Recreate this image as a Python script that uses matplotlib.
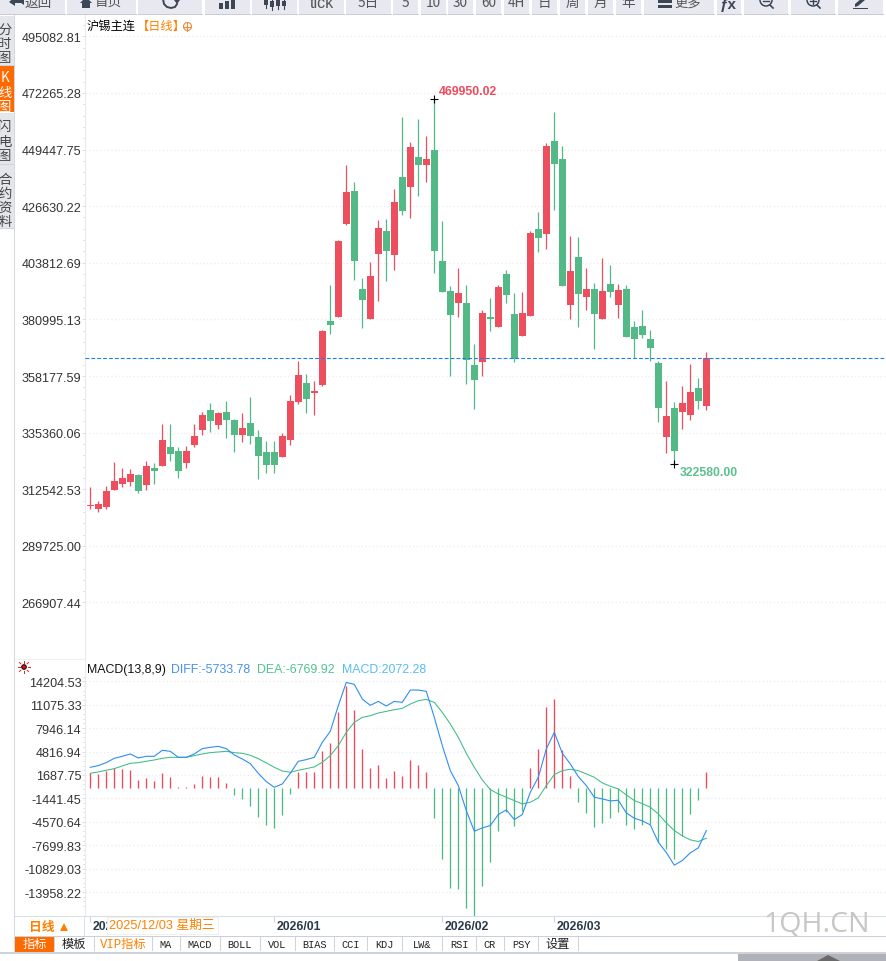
import matplotlib
matplotlib.use("Agg")
import matplotlib.pyplot as plt
from matplotlib.patches import Rectangle, Polygon, Circle
from matplotlib.transforms import ScaledTranslation

CJK = ["Noto Sans CJK SC", "DejaVu Sans"]
plt.rcParams["font.family"] = ["Liberation Sans", "DejaVu Sans"]

# 日线数据
highs = [313450, 307810, 313850, 323530, 321110, 320710, 318690, 323930, 323120, 338840,
         338840, 329570, 329970, 338840, 343680, 347300, 343680, 348110, 340860, 343270,
         349720, 336420, 331990, 331990, 335210, 350530, 364230, 358990, 356170, 376720,
         394860, 412990, 443220, 436370, 397680, 404130, 421050, 421460, 433550, 462560,
         452490, 461760, 454900, 469950, 420650, 394450, 401710, 394860, 371080, 384780,
         389620, 394860, 400900, 391630, 392040, 416620, 424280, 452080, 464580, 450870,
         414600, 414200, 401710, 395660, 405740, 402920, 395260, 394860, 380350, 384780,
         376720, 364230, 356170, 347710, 354150, 363020, 357380, 367860]
opens = [305790, 304590, 305390, 312240, 314660, 315470, 318290, 314260, 321110, 321910,
         329570, 327960, 323120, 330380, 336420, 344480, 338440, 343680, 340450, 334410,
         339240, 333600, 327560, 327560, 325540, 332390, 347710, 355360, 351330, 354560,
         380350, 381960, 419440, 432740, 393250, 381160, 407350, 416620, 406950, 438380,
         434350, 446440, 443220, 449260, 404530, 392440, 387600, 387600, 362620, 363830,
         381960, 377930, 399290, 383170, 374300, 382360, 417430, 415410, 452890, 445640,
         386800, 406140, 390020, 393250, 381160, 395260, 386800, 393250, 377930, 378330,
         373100, 363420, 333600, 345290, 343680, 342470, 353350, 346090]
closes = [306200, 306600, 311840, 315870, 317080, 318690, 311840, 321910, 319900, 332390,
          326750, 319900, 327960, 334000, 342470, 340050, 343270, 340450, 334410, 337230,
          334000, 325940, 322320, 322320, 334000, 348110, 358590, 348920, 352150, 376320,
          378740, 412590, 432340, 404530, 388810, 398480, 417830, 408560, 428310, 424680,
          450470, 443220, 445640, 408560, 392040, 382770, 391630, 364630, 356570, 383570,
          381160, 394050, 390830, 365040, 383570, 415810, 413800, 450870, 443620, 394450,
          400500, 391230, 393250, 383170, 392440, 392040, 392840, 373900, 373100, 374710,
          369470, 345290, 342060, 327960, 347300, 351740, 348110, 365320]
lows = [304590, 303380, 304590, 312240, 313450, 313850, 311030, 312240, 314660, 321910,
        323930, 317080, 321110, 329570, 334410, 335620, 336830, 333200, 327560, 331590,
        330780, 316680, 319090, 319090, 325540, 330380, 346900, 343270, 342470, 354150,
        375130, 381960, 419040, 396870, 377530, 381160, 388410, 396470, 400900, 423070,
        421860, 430720, 436370, 399690, 392040, 358180, 381960, 354960, 344890, 358180,
        376320, 377930, 387600, 363830, 374300, 382360, 408160, 409370, 425080, 394450,
        381160, 377930, 384780, 369070, 381160, 390020, 381560, 373900, 365440, 373500,
        364230, 339650, 327150, 322580, 336830, 340450, 344890, 344480]

diff = [2713, 2936, 3336, 3914, 4181, 4492, 3959, 4181, 4181, 4982,
        4848, 4048, 4048, 4492, 5204, 5382, 5516, 5204, 4359, 3825,
        3203, 1913, 801, 44, 489, 1913, 3514, 3736, 4048, 6049,
        7517, 10942, 14056, 13789, 11832, 10987, 11520, 10898, 11520, 11387,
        13033, 13033, 12855, 9385, 5604, 2268, 267, -3069, -5827, -5382,
        -5071, -3603, -2980, -4270, -3603, -623, 1379, 5160, 7384, 4581,
        3158, 1468, 267, -1290, -1512, -1779, -1690, -3380, -4092, -4448,
        -4982, -7295, -8674, -10364, -9741, -8718, -8051, -5733.78]
dea = [1913, 2091, 2313, 2535, 2891, 3247, 3336, 3514, 3692, 3914,
       4048, 4048, 4048, 4270, 4492, 4670, 4759, 4848, 4670, 4581,
       4315, 3870, 3292, 2713, 2224, 2046, 2313, 2535, 2758, 3380,
       4270, 5604, 7384, 8718, 9385, 9608, 9964, 10186, 10408, 10586,
       11164, 11609, 11787, 11387, 10052, 8496, 6716, 4581, 2713, 1023,
       -267, -845, -1290, -1735, -2180, -1957, -1379, 267, 1735, 2268,
       2446, 2268, 1824, 1379, 623, 178, -178, -979, -1735, -2135,
       -2624, -3514, -4715, -5738, -6450, -6983, -7206, -6769.92]
macd = [1957, 1824, 2224, 2624, 2491, 2357, 1023, 1290, 890, 1957,
        1423, 60, 60, 489, 1557, 1423, 1423, 623, -934, -1512,
        -2446, -3914, -4982, -5382, -3647, -845, 2091, 2091, 2091, 4893,
        5960, 10097, 13566, 10364, 5160, 2624, 3025, 1290, 2224, 1557,
        3692, 3025, 2091, -4048, -9519, -13388, -13522, -16057, -17125, -13122,
        -9919, -5782, -3247, -5115, -3114, 2624, 5160, 10764, 11832, 5026,
        1557, -1913, -3380, -5249, -4715, -4048, -3247, -4982, -5516, -4982,
        -4848, -7250, -8184, -9519, -6450, -3514, -1646, 2072.28]

price_ticks = [495082.81, 472265.28, 449447.75, 426630.22, 403812.69, 380995.13,
               358177.59, 335360.06, 312542.53, 289725.00, 266907.44]
macd_ticks = [14204.53, 11075.33, 7946.14, 4816.94, 1687.75, -1441.45,
              -4570.64, -7699.83, -10829.03, -13958.22]
date_ticks = [0, 23, 44, 58]
date_labels = ["2025/12", "2026/01", "2026/02", "2026/03"]
high_mark = 469950
low_mark = 322580

toolbar = [(0, 65, "返回"), (67, 136, "首页"), (138, 202, ""), (205, 250, ""), (252, 297, ""),
           (299, 344, "tick"), (346, 391, "5日"), (393, 418, "5"), (421, 446, "10"),
           (448, 473, "30"), (476, 501, "60"), (504, 529, "4H"), (532, 557, "日"),
           (560, 585, "周"), (588, 613, "月"), (616, 641, "年"), (644, 714, ""),
           (717, 741, ""), (744, 788, ""), (791, 835, ""), (838, 883, "")]
side_tabs = [(17, 66, "分时图", [30, 44, 58]), (67, 113, "K线图", [78, 93, 107]),
             (114, 165, "闪电图", [127, 142, 156]), (166, 229, "合约资料", [180, 194, 208, 222])]
bottom_tabs = ["指标", "模板", "VIP指标", "MA", "MACD", "BOLL", "VOL", "BIAS", "CCI",
               "KDJ", "LW&", "RSI", "CR", "PSY", "设置"]
bottom_edges = [15, 54, 94, 152, 180, 220, 260, 295, 334, 367, 402, 442, 476, 504, 538, 578]

RED = "#ee4f5f"
GREEN = "#53ba87"
ORANGE = "#ff8000"
W, H = 886, 962
xs = list(range(len(closes)))


def box(left, top, right, bottom):
    return [left / W, 1 - bottom / H, (right - left) / W, (bottom - top) / H]


fig = plt.figure(figsize=(W / 100, H / 100), dpi=100, facecolor="white")
ax = fig.add_axes(box(85, 16, 886, 660))
ax2 = fig.add_axes(box(85, 660, 886, 917))

# K线
for i in xs:
    up = closes[i] >= opens[i]
    c = RED if up else GREEN
    ax.vlines(i, lows[i], highs[i], color=c, lw=0.9, zorder=3)
    ax.bar(i, abs(closes[i] - opens[i]), bottom=min(opens[i], closes[i]), width=0.875,
           color=c, lw=0, zorder=4)

ax.axhline(closes[-1], color="#1a80e8", lw=0.8, ls=(0, (3.4, 1.9)), zorder=5)

imax = highs.index(high_mark)
imin = lows.index(low_mark)
ax.plot([imax, imin], [highs[imax], lows[imin]], "+", color="black", ms=6, mew=0.8, zorder=6)
ax.annotate("469950.02", (imax, highs[imax]), xytext=(5, 8), textcoords="offset pixels",
            color="#f04a5c", fontsize=8.8, fontweight="bold", va="center", ha="left")
ax.annotate("322580.00", (imin, lows[imin]), xytext=(5, -8), textcoords="offset pixels",
            color="#5cc08e", fontsize=8.8, fontweight="bold", va="center", ha="left")

ax.set_xlim(-0.66, 99.46)
ax.set_ylim(244135, 503667)
ax.set_yticks(price_ticks, [f"{v:.2f}" for v in price_ticks])
ax.set_yticks([price_ticks[0] + 4563.5 * k for k in range(-49, 2) if k % 5], minor=True)
ax.set_xticks([])

# MACD
for i in xs:
    c = "#f2485a" if macd[i] >= 0 else "#4dbb84"
    ax2.vlines(i, 0, macd[i], color=c, lw=0.95, zorder=2)
ax2.plot(xs, dea, color="#3dbd85", lw=0.75, zorder=3)
ax2.plot(xs, diff, color="#2f8ef2", lw=0.8, zorder=4)

ax2.set_xlim(-0.66, 99.46)
ax2.set_ylim(-17154, 17180)
ax2.set_yticks(macd_ticks, [f"{v:.2f}" for v in macd_ticks])
ax2.set_yticks([macd_ticks[0] + 625.84 * k for k in range(-48, 2) if k % 5], minor=True)
ax2.set_xticks(date_ticks, date_labels)
ax2.tick_params(axis="x", length=4.5, width=0.8, color="#cfd6de", pad=-1.8, labelsize=8.8,
                labelcolor="#2b3a4a")
offset = ScaledTranslation(2 / 72, 0, fig.dpi_scale_trans)
for lab in ax2.get_xticklabels():
    lab.set_ha("left")
    lab.set_fontweight("bold")
    lab.set_transform(lab.get_transform() + offset)

for a in (ax, ax2):
    a.grid(axis="y", which="major", color="#eeeeee", ls=":", lw=1)
    a.set_axisbelow(True)
    a.tick_params(axis="y", which="major", length=2.5, width=0.7, color="#dddddd", pad=0.2,
                  labelsize=9.1, labelcolor="#333333")
    a.tick_params(axis="y", which="minor", length=1.5, width=0.7, color="#dddddd")
    for s in ("top", "right"):
        a.spines[s].set_visible(False)
    a.spines["left"].set_color("#e8ebef")
    a.spines["bottom"].set_color("#d8dfe6")
ax.spines["bottom"].set_color("#eceff3")

# 页面外框用像素坐标画
ui = fig.add_axes([0, 0, 1, 1], facecolor="none", zorder=10)
ui.set_xlim(0, W)
ui.set_ylim(H, 0)
ui.axis("off")


def rect(x0, y0, x1, y1, **kw):
    kw.setdefault("lw", 0)
    ui.add_patch(Rectangle((x0, y0), x1 - x0, y1 - y0, **kw))


# 工具栏
for x0, x1, label in toolbar:
    rect(x0, 0, x1, 15, color="#e8e9f0")
    rect(x0, 15, x1 + 1, 16, color="#c9ccd6")
    if label == "tick":
        ui.text((x0 + x1) / 2, 4, label, fontsize=11.5, color="#555555", ha="center", va="center")
    elif label:
        cx = (x0 + x1) / 2 + (6 if x0 < 140 else 0)
        ui.text(cx, 3, label, fontsize=9.8, color="#555555", ha="center", va="center", family=CJK)
ui.text(688, 3, "更多", fontsize=9.5, color="#555555", ha="center", va="center", family=CJK)
ui.text(728, 5, "ƒx", fontsize=11, color="#3c4654", ha="center", va="center", fontweight="bold")
ICON = "#3c4654"
ui.add_patch(Polygon([(9, 3), (15, -2), (15, 1), (24, 1), (24, 6), (21, 4), (15, 4), (15, 7)], color=ICON, lw=0))
ui.add_patch(Polygon([(80, 4), (86, -2), (92, 4), (90, 4), (90, 9), (82, 9), (82, 4)], color=ICON, lw=0))
ui.plot([163, 164, 167, 171, 175, 177], [0, 5, 8, 9, 8, 5], color=ICON, lw=1.4)
ui.add_patch(Polygon([(174, 1), (180, 1), (177, 5)], color=ICON, lw=0))
for bx, top in [(219, 4), (225, 2), (231, 0)]:
    rect(bx, top, bx + 4, 10, color=ICON)
for bx, top, bot in [(265, 1, 6), (271, 2, 8), (277, 1, 7), (283, 2, 7)]:
    ui.plot([bx + 1, bx + 1], [0, bot + 3], color=ICON, lw=0.8)
    rect(bx - 1, top, bx + 3, bot, color=ICON)
rect(658, 1, 672, 3.5, color=ICON)
rect(658, 6, 672, 8.5, color=ICON)
for cx in (766, 813):
    ui.add_patch(Circle((cx, 1), 6, fill=False, ec=ICON, lw=1.1))
    ui.plot([cx + 4, cx + 7], [6, 9], color=ICON, lw=1.2)
    ui.plot([cx - 3, cx + 3], [2, 2], color=ICON, lw=1)
ui.plot([813, 813], [-1, 5], color=ICON, lw=1)
ui.add_patch(Polygon([(855, 5), (862, -1), (865, 1), (858, 7), (855, 8)], color=ICON, lw=0))
rect(853, 8.5, 868, 9.7, color=ICON)

# 左侧标签
rect(14, 16, 15, 953, color="#d3d9e1")
for y0, y1, label, ys in side_tabs:
    active = label == "K线图"
    rect(0, y0, 14, y1, color="#ff6a00" if active else "#e4e6ec")
    if not active:
        rect(0, y1, 14, y1 + 1, color="#cfd3dc")
    for ch, y in zip(label, ys):
        ui.text(5, y, ch, fontsize=9.6, color="white" if active else "#444444", ha="center",
                va="center", family=CJK)

# 标题
ui.text(87, 26, "沪锡主连", fontsize=8.8, color="black", va="center", family=CJK)
ui.text(137, 26, "【日线】", fontsize=8.8, color=ORANGE, va="center", family=CJK)
ui.add_patch(Circle((187.5, 27.5), 4, fill=False, ec="#f08a3c", lw=0.8))
ui.plot([183.5, 191.5], [27.5, 27.5], color="#f08a3c", lw=0.8)
ui.plot([187.5, 187.5], [23.5, 31.5], color="#f08a3c", lw=0.8)

# MACD 标题
ui.text(87, 670.5, "MACD(13,8,9)", fontsize=8.9, color="#111111", va="center")
ui.text(171, 670.5, "DIFF:-5733.78", fontsize=8.9, color="#4a90ee", va="center")
ui.text(257, 670.5, "DEA:-6769.92", fontsize=8.9, color="#4fc48f", va="center")
ui.text(342, 670.5, "MACD:2072.28", fontsize=8.9, color="#58bdf0", va="center")
ui.add_patch(Circle((24, 668), 2.3, fc="#e01010", ec="black", lw=0.7))
for dx, dy in [(0, -6), (0, 6), (-6, 0), (6, 0), (-4.5, -4.5), (4.5, 4.5), (-4.5, 4.5), (4.5, -4.5)]:
    ui.plot([24 + dx * 0.7, 24 + dx], [668 + dy * 0.7, 668 + dy], color="#e82020", lw=0.7)

# 底部
rect(15, 660, 85, 660.8, color="#eceff3")
rect(15, 917, 85, 918, color="#d8dfe6")
rect(15, 936.5, W, 937.5, color="#c8d0da")
rect(84, 917, 85, 937, color="#d8dfe6")
ui.text(41.5, 928, "日线", fontsize=9.2, color=ORANGE, ha="center", va="center", family=CJK,
        fontweight="bold")
ui.add_patch(Polygon([(60, 932), (64, 924), (68, 932)], color=ORANGE, lw=0))
rect(107.5, 918, 218, 935, fc="white", ec="#eeeeee", lw=0.6)
ui.text(109, 925.7, "2025/12/03 星期三", fontsize=9.2, color=ORANGE, va="center",
        family=["Liberation Sans", "Noto Sans CJK SC"])

for k, label in enumerate(bottom_tabs):
    x0, x1 = bottom_edges[k], bottom_edges[k + 1]
    rect(x1, 938, x1 + 0.8, 952, color="#cdd4dc")
    if k == 0:
        rect(x0, 937.5, x1, 952.5, color="#ff6a00")
    color = "white" if k == 0 else (ORANGE if k == 2 else "#222222")
    if label.isascii():
        ui.text((x0 + x1) / 2, 945, label, fontsize=7.4, color=color, ha="center", va="center",
                family="Liberation Mono")
    else:
        ui.text((x0 + x1) / 2, 945, label, fontsize=8.8, color=color, ha="center", va="center",
                family=["Liberation Mono", "Noto Sans CJK SC"])
rect(0, 953, W, 955, color="#ccd3dc")
rect(738, 955, W, H, color="#b1b1b8")
ui.add_patch(Polygon([(817, 962), (828, 956), (840, 962)], color="#6a6a6a", lw=0))

ui.text(763, 925, "1QH.CN", fontsize=20.5, color="#c9c7c5", va="center", family="Open Sans")

fig.savefig("out.png", dpi=100)
